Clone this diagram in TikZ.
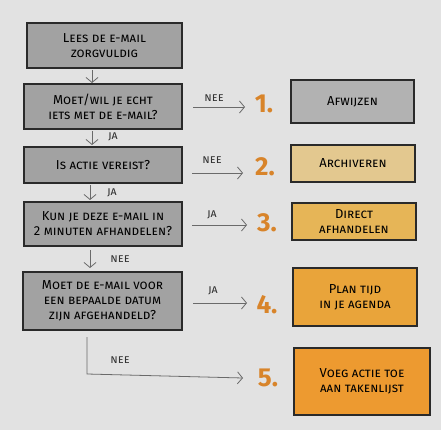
\documentclass[tikz,border=0pt]{standalone}
\usepackage{fontspec}
\setmainfont{Fira Sans}
\usetikzlibrary{arrows.meta}
\definecolor{paper}{HTML}{E2E2E2}
\definecolor{boxgray}{HTML}{A2A2A2}
\definecolor{lightgray}{HTML}{B2B2B2}
\definecolor{tan}{HTML}{E3C88F}
\definecolor{ochre}{HTML}{E6B557}
\definecolor{orangeA}{HTML}{E9A43A}
\definecolor{orangeB}{HTML}{ED9A30}
\definecolor{numorange}{HTML}{D8842A}
\definecolor{boxline}{HTML}{2A2A2A}
\definecolor{arrgray}{HTML}{6A6A6A}
\begin{document}
\begin{tikzpicture}[x=1pt,y=-1pt,
  box/.style={draw=boxline, line width=1.2pt, align=center, inner sep=0pt,
    font=\scshape\fontsize{13}{15}\selectfont, text=black},
  lbox/.style={box, fill=boxgray},
  num/.style={font=\bfseries\fontsize{26}{26}\selectfont, text=numorange, inner sep=0pt},
  arr/.style={draw=arrgray, line width=0.8pt, -{Straight Barb[length=5pt,width=12pt]}},
  lab/.style={font=\scshape\fontsize{12}{12}\selectfont, text=black!80, inner sep=0pt}]
\fill[paper] (0,0) rectangle (441,430);
% left column
\node[lbox, minimum width=155pt, minimum height=45pt] (b1) at (104.5,45.5) {Lees de e-mail\\zorgvuldig};
\node[lbox, minimum width=158pt, minimum height=45pt] (b2) at (103,106.5) {Moet/wil je echt\\iets met de e-mail?};
\node[lbox, minimum width=158pt, minimum height=36pt] (b3) at (103,165) {Is actie vereist?};
\node[lbox, minimum width=158pt, minimum height=44pt] (b4) at (103,224) {Kun je deze e-mail in\\2 minuten afhandelen?};
\node[lbox, minimum width=159pt, minimum height=58pt] (b5) at (102.5,301) {Moet de e-mail voor\\een bepaalde datum\\zijn afgehandeld?};
% right column
\node[box, fill=lightgray, minimum width=123pt, minimum height=43pt] (r1) at (352.5,101.5) {Afwijzen};
\node[box, fill=tan, minimum width=124pt, minimum height=37pt] (r2) at (353,163.5) {Archiveren};
\node[box, fill=ochre, minimum width=124pt, minimum height=37pt] (r3) at (354,221.5) {Direct\\afhandelen};
\node[box, fill=orangeA, minimum width=124pt, minimum height=58pt] (r4) at (355,297) {Plan tijd\\in je agenda};
\node[box, fill=orangeB, minimum width=136pt, minimum height=67pt] (r5) at (362,381.5) {Voeg actie toe\\aan takenlijst};
% numbers
\node[num] (n1) at (264,104) {1.};
\node[num] (n2) at (265,167) {2.};
\node[num] (n3) at (267,223) {3.};
\node[num] (n4) at (267,305) {4.};
\node[num] (n5) at (268,378) {5.};
% horizontal arrows
\coordinate (h1a) at (193,107); \coordinate (h1b) at (245,107);
\coordinate (h2a) at (192,173); \coordinate (h2b) at (243,173);
\coordinate (h3a) at (192,225); \coordinate (h3b) at (247,225);
\coordinate (h4a) at (193,303); \coordinate (h4b) at (247,303);
\draw[arr] (h1a) -- (h1b);
\draw[arr] (h2a) -- (h2b);
\draw[arr] (h3a) -- (h3b);
\draw[arr] (h4a) -- (h4b);
\node[lab] (l1) at (214,98) {nee};
\node[lab] (l2) at (212,160) {nee};
\node[lab] (l3) at (212,215) {ja};
\node[lab] (l4) at (213,291) {ja};
% vertical arrows
\coordinate (v1a) at (92,70); \coordinate (v1b) at (92,83);
\coordinate (v2a) at (92,131); \coordinate (v2b) at (92,145);
\coordinate (v3a) at (90,185); \coordinate (v3b) at (90,200);
\coordinate (v4a) at (90,250); \coordinate (v4b) at (90,268);
\draw[arr] (v1a) -- (v1b);
\draw[arr] (v2a) -- (v2b);
\draw[arr] (v3a) -- (v3b);
\draw[arr] (v4a) -- (v4b);
\node[lab] (l5) at (113,137) {ja};
\node[lab] (l6) at (112,193) {ja};
\node[lab] (l7) at (120,259) {nee};
% bottom path
\coordinate (p5a) at (87,337); \coordinate (p5b) at (87,374); \coordinate (p5c) at (243,378);
\draw[arr] (p5a) -- (p5b) -- (p5c);
\node[lab] (l8) at (120,360) {nee};
\end{tikzpicture}
\end{document}
